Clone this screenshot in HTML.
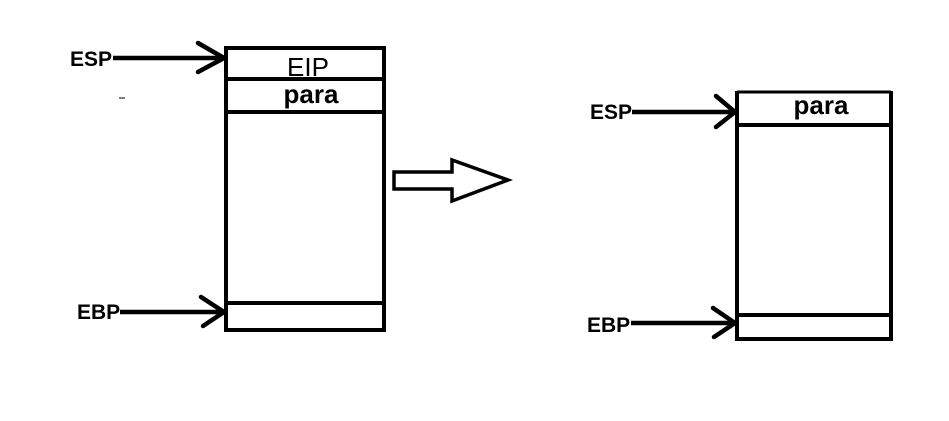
<!DOCTYPE html>
<html><head><style>
html,body{margin:0;padding:0;background:#fff;}
svg{display:block;}
text{font-family:"Liberation Sans",sans-serif;fill:#000;}
</style></head><body>
<svg width="949" height="421" viewBox="0 0 949 421" xmlns="http://www.w3.org/2000/svg">
<rect width="949" height="421" fill="#fff"/>
<g stroke="#000" stroke-width="4" fill="none" stroke-linecap="butt">
 <rect x="226" y="48" width="158" height="282"/>
 <line x1="226" y1="79" x2="384" y2="79"/>
 <line x1="226" y1="112" x2="384" y2="112"/>
 <line x1="226" y1="303" x2="384" y2="303"/>
 <line x1="737" y1="92" x2="891" y2="92" stroke-width="3"/>
 <line x1="737" y1="91" x2="737" y2="341"/>
 <line x1="891" y1="91" x2="891" y2="341"/>
 <line x1="735" y1="339" x2="893" y2="339"/>
 <line x1="737" y1="125" x2="893" y2="125"/>
 <line x1="737" y1="315" x2="891" y2="315"/>
 <g stroke-width="4.5">
 <line x1="113" y1="58" x2="224" y2="58"/>
 <polyline points="198,43 224,58 198,72" stroke-linecap="round" stroke-linejoin="round"/>
 <line x1="120" y1="312" x2="224" y2="312"/>
 <polyline points="201,297 224,312 203,326" stroke-linecap="round" stroke-linejoin="round"/>
 <line x1="632" y1="112" x2="735" y2="112"/>
 <polyline points="716,96 735,112 716,127" stroke-linecap="round" stroke-linejoin="round"/>
 <line x1="631" y1="323" x2="735" y2="323"/>
 <polyline points="713,308 735,323 714,337" stroke-linecap="round" stroke-linejoin="round"/>
 </g>
 <polygon points="394,172 452,172 452,160 508,180 452,201 452,189 394,189" stroke-width="3.5" stroke-linejoin="miter"/>
</g>
<line x1="119" y1="98" x2="125" y2="98" stroke="#000" stroke-width="1"/>
<text x="308" y="76" font-size="26" text-anchor="middle">EIP</text>
<text x="311" y="103" font-size="26" font-weight="bold" text-anchor="middle">para</text>
<text x="821" y="114" font-size="26" font-weight="bold" text-anchor="middle">para</text>
<text x="70" y="66" font-size="21" font-weight="bold">ESP</text>
<text x="77" y="319" font-size="21" font-weight="bold">EBP</text>
<text x="590" y="119" font-size="21" font-weight="bold">ESP</text>
<text x="587" y="332" font-size="21" font-weight="bold">EBP</text>
</svg>
</body></html>
